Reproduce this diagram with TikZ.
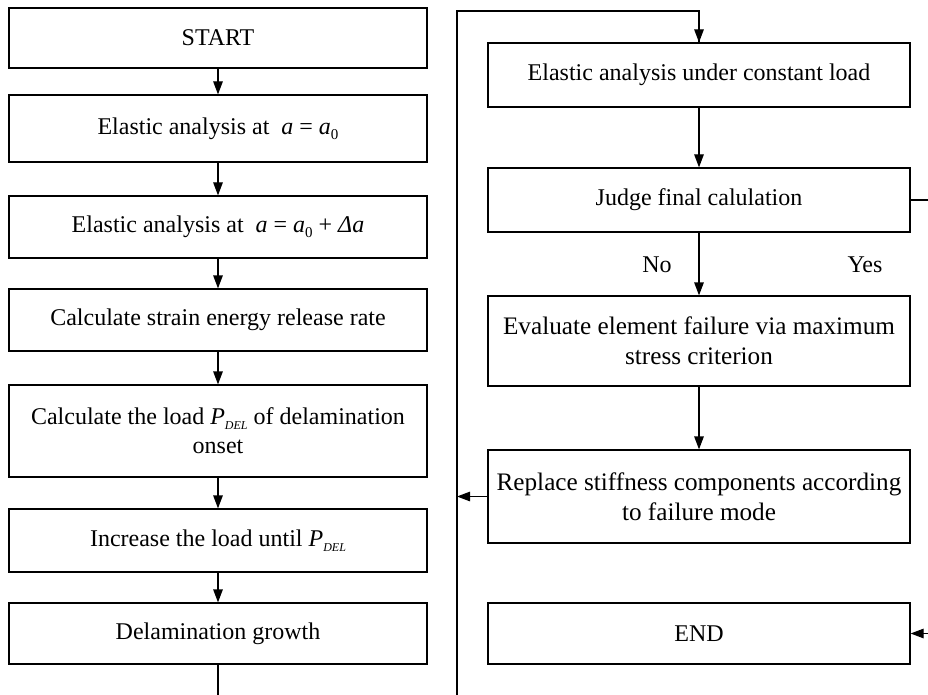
\documentclass[tikz,border=0pt]{standalone}
\usepackage{fontspec}
\setmainfont{Liberation Serif}
\usetikzlibrary{arrows.meta}
\newcommand{\sbdel}{\raisebox{-5pt}{\fontsize{12}{12}\selectfont\textit{DEL}}}
\newcommand{\sbzero}{\raisebox{-5pt}{\fontsize{15}{15}\selectfont 0}}
\begin{document}
\begin{tikzpicture}[x=1pt,y=-1pt,
  lw/.style={line width=1.2pt},
  box/.style={draw, lw, rectangle, inner sep=0pt, align=center,
     font=\fontsize{24}{29}\selectfont},
  lbox/.style={box, minimum width=418pt},
  rbox/.style={box, minimum width=422pt},
  bigtxt/.style={font=\fontsize{25.2}{30}\selectfont},
  arr/.style={lw, -{Triangle[length=13pt,width=9.5pt]}},
  lab/.style={font=\fontsize{24}{29}\selectfont, inner sep=0pt}]
\useasboundingbox (0,0) rectangle (928,695);
% left column
\node[lbox, minimum height=60pt] (start) at (218,38) {START};
\node[lbox, minimum height=67pt] (ea0) at (218,128.5) {Elastic analysis at \ \textit{a} = \textit{a}\sbzero};
\node[lbox, minimum height=62pt] (eada) at (218,227) {Elastic analysis at \ \textit{a} = \textit{a}\sbzero\ + \textit{Δa}};
\node[lbox, minimum height=62pt] (strain) at (218,320) {Calculate strain energy release rate};
\node[lbox, minimum height=92pt] (load) at (218,431) {Calculate the load \textit{P}\sbdel\ of delamination\\onset};
\node[lbox, minimum height=63pt] (inc) at (218,540.5) {Increase the load until \textit{P}\sbdel};
\node[lbox, minimum height=61pt] (delam) at (218,633.5) {Delamination growth};
% right column
\node[rbox, minimum height=64pt] (ecl) at (699,75) {Elastic analysis under constant load};
\node[rbox, minimum height=64pt] (judge) at (699,200) {Judge final calulation};
\node[rbox, bigtxt, minimum height=90pt] (eval) at (699,341) {Evaluate element failure via maximum\\stress criterion};
\node[rbox, bigtxt, minimum height=93pt] (repl) at (699,496.5) {Replace stiffness components according\\to failure mode};
\node[rbox, minimum height=61pt] (end) at (699,633.5) {END};
\node[lab] (no) at (657,265) {No};
\node[lab] (yes) at (865,265) {Yes};
% coordinates
\coordinate (lbot) at (457,695);
\coordinate (ltop) at (457,11);
\coordinate (dbot) at (218,695);
\coordinate (rx) at (928.6,0);
% left arrows
\draw[arr] (start) -- (ea0);
\draw[arr] (ea0) -- (eada);
\draw[arr] (eada) -- (strain);
\draw[arr] (strain) -- (load);
\draw[arr] (load) -- (inc);
\draw[arr] (inc) -- (delam);
\draw[lw] (delam) -- (dbot);
% loop line
\draw[lw] (lbot) -- (ltop) -| (ecl.north);
\draw[arr] (ltop -| ecl.north) -- (ecl.north);
% right arrows
\draw[arr] (ecl) -- (judge);
\draw[arr] (judge) -- (eval);
\draw[arr] (eval) -- (repl);
\draw[arr] (repl.west) -- (repl.west -| lbot);
\draw[lw] (judge.east) -- (judge.east -| rx) |- (end.east -| rx);
\draw[arr] (end.east -| rx) -- (end.east);
\end{tikzpicture}
\end{document}
